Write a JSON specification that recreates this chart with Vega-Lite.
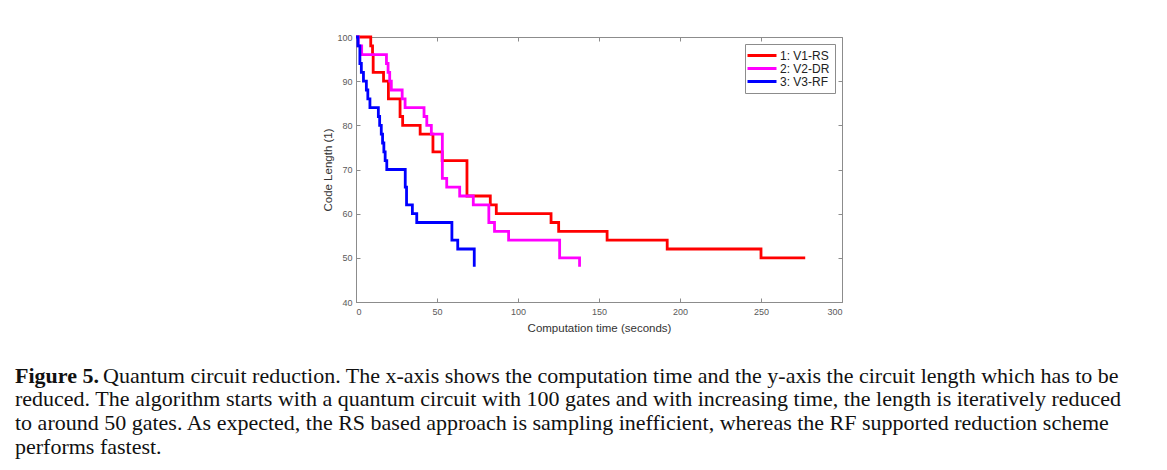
{
  "$schema": "https://vega.github.io/schema/vega-lite/v6.json",
  "width": 486,
  "height": 265,
  "autosize": {"type": "none"},
  "padding": {"left": 356, "top": 37, "right": 325, "bottom": 168},
  "background": "white",
  "config": {
    "view": {"stroke": "#8c8c8c", "strokeWidth": 1},
    "font": "Liberation Sans",
    "axis": {
      "domainColor": "#8c8c8c",
      "tickColor": "#8c8c8c",
      "labelColor": "#5a5a5a",
      "labelFont": "Liberation Sans",
      "labelFontSize": 9,
      "titleFont": "Liberation Sans",
      "titleFontWeight": "normal",
      "titleColor": "#333333",
      "titleFontSize": 11.5,
      "grid": false,
      "tickSize": -4,
      "labelPadding": 8
    }
  },
  "title": {
    "text": "Figure 5.",
    "subtitle": [
      "\u200b\u00a0\u00a0\u00a0\u00a0\u00a0\u00a0\u00a0\u00a0\u00a0\u00a0\u00a0\u00a0\u00a0\u00a0\u00a0\u00a0Quantum circuit reduction. The x-axis shows the computation time and the y-axis the circuit length which has to be",
      "reduced. The algorithm starts with a quantum circuit with 100 gates and with increasing time, the length is iteratively reduced",
      "to around 50 gates. As expected, the RS based approach is sampling inefficient, whereas the RF supported reduction scheme",
      "performs fastest."
    ],
    "orient": "bottom",
    "anchor": "start",
    "frame": "group",
    "dx": -341,
    "offset": 32,
    "font": "Liberation Serif",
    "fontSize": 22,
    "fontWeight": "bold",
    "color": "#111111",
    "subtitleFont": "Liberation Serif",
    "subtitleFontSize": 22,
    "subtitleFontWeight": "normal",
    "subtitleColor": "#111111",
    "subtitleLineHeight": 23.7,
    "subtitlePadding": -22,
    "lineHeight": 22
  },
  "data": {
    "values": [
      {"series": "1: V1-RS", "t": 0, "len": 100},
      {"series": "1: V1-RS", "t": 9.1, "len": 98},
      {"series": "1: V1-RS", "t": 10.2, "len": 96},
      {"series": "1: V1-RS", "t": 10.6, "len": 92},
      {"series": "1: V1-RS", "t": 17, "len": 90},
      {"series": "1: V1-RS", "t": 20, "len": 86},
      {"series": "1: V1-RS", "t": 27.2, "len": 82},
      {"series": "1: V1-RS", "t": 28.8, "len": 80},
      {"series": "1: V1-RS", "t": 39.6, "len": 78},
      {"series": "1: V1-RS", "t": 47.5, "len": 74},
      {"series": "1: V1-RS", "t": 53.2, "len": 72},
      {"series": "1: V1-RS", "t": 68.5, "len": 64},
      {"series": "1: V1-RS", "t": 82.9, "len": 62},
      {"series": "1: V1-RS", "t": 86.6, "len": 60},
      {"series": "1: V1-RS", "t": 120.4, "len": 58},
      {"series": "1: V1-RS", "t": 125.1, "len": 56},
      {"series": "1: V1-RS", "t": 155, "len": 54},
      {"series": "1: V1-RS", "t": 192.1, "len": 52},
      {"series": "1: V1-RS", "t": 250, "len": 50},
      {"series": "1: V1-RS", "t": 277.3, "len": 50},
      {"series": "2: V2-DR", "t": 0, "len": 100},
      {"series": "2: V2-DR", "t": 1.4, "len": 98},
      {"series": "2: V2-DR", "t": 3.5, "len": 96},
      {"series": "2: V2-DR", "t": 18.8, "len": 94},
      {"series": "2: V2-DR", "t": 19.8, "len": 92},
      {"series": "2: V2-DR", "t": 20.8, "len": 90},
      {"series": "2: V2-DR", "t": 21.8, "len": 88},
      {"series": "2: V2-DR", "t": 28.5, "len": 86},
      {"series": "2: V2-DR", "t": 30.3, "len": 84},
      {"series": "2: V2-DR", "t": 42, "len": 82},
      {"series": "2: V2-DR", "t": 43.7, "len": 80},
      {"series": "2: V2-DR", "t": 46.5, "len": 78},
      {"series": "2: V2-DR", "t": 53.3, "len": 68},
      {"series": "2: V2-DR", "t": 56, "len": 66},
      {"series": "2: V2-DR", "t": 64, "len": 64},
      {"series": "2: V2-DR", "t": 72.4, "len": 62},
      {"series": "2: V2-DR", "t": 82, "len": 58},
      {"series": "2: V2-DR", "t": 85.5, "len": 56},
      {"series": "2: V2-DR", "t": 94.2, "len": 54},
      {"series": "2: V2-DR", "t": 125.7, "len": 50},
      {"series": "2: V2-DR", "t": 138, "len": 48},
      {"series": "3: V3-RF", "t": 0, "len": 100},
      {"series": "3: V3-RF", "t": 1.2, "len": 98},
      {"series": "3: V3-RF", "t": 2.4, "len": 94},
      {"series": "3: V3-RF", "t": 3.3, "len": 92},
      {"series": "3: V3-RF", "t": 4.6, "len": 90},
      {"series": "3: V3-RF", "t": 6.4, "len": 88},
      {"series": "3: V3-RF", "t": 7.3, "len": 86},
      {"series": "3: V3-RF", "t": 8.6, "len": 84},
      {"series": "3: V3-RF", "t": 13.8, "len": 82},
      {"series": "3: V3-RF", "t": 14.6, "len": 80},
      {"series": "3: V3-RF", "t": 15.6, "len": 78},
      {"series": "3: V3-RF", "t": 16.4, "len": 76},
      {"series": "3: V3-RF", "t": 17.2, "len": 74},
      {"series": "3: V3-RF", "t": 18, "len": 72},
      {"series": "3: V3-RF", "t": 19, "len": 70},
      {"series": "3: V3-RF", "t": 30.4, "len": 66},
      {"series": "3: V3-RF", "t": 31.2, "len": 62},
      {"series": "3: V3-RF", "t": 34.8, "len": 60},
      {"series": "3: V3-RF", "t": 37.5, "len": 58},
      {"series": "3: V3-RF", "t": 59.2, "len": 54},
      {"series": "3: V3-RF", "t": 62.8, "len": 52},
      {"series": "3: V3-RF", "t": 73, "len": 48}
    ]
  },
  "layer": [
    {
      "mark": {"type": "line", "interpolate": "step-after", "strokeWidth": 2.8, "strokeJoin": "miter", "strokeCap": "butt"},
      "encoding": {
        "x": {
          "field": "t", "type": "quantitative",
          "scale": {"domain": [0, 300], "nice": false, "zero": false},
          "axis": {"orient": "bottom", "values": [0, 50, 100, 150, 200, 250, 300], "title": "Computation time (seconds)", "titlePadding": 6, "labelPadding": 9}
        },
        "y": {
          "field": "len", "type": "quantitative",
          "scale": {"domain": [40, 100], "nice": false, "zero": false},
          "axis": {"orient": "left", "values": [40, 50, 60, 70, 80, 90, 100], "title": "Code Length (1)", "titlePadding": 3}
        },
        "color": {
          "field": "series", "type": "nominal",
          "scale": {"domain": ["1: V1-RS", "2: V2-DR", "3: V3-RF"], "range": ["#ff0000", "#ff00ff", "#0000ff"]},
          "legend": {
            "title": null,
            "orient": "top-right",
            "offset": 7,
            "strokeColor": "#8c8c8c",
            "fillColor": "white",
            "padding": 5,
            "symbolType": "M-2.9,0H2.9",
            "symbolStrokeWidth": 3,
            "symbolSize": 100,
            "symbolOffset": 5.5,
            "labelFont": "Liberation Sans",
            "labelFontSize": 12,
            "labelColor": "#222222",
            "labelOffset": 11.5,
            "rowPadding": 0
          }
        }
      }
    },
    {
      "mark": {"type": "point", "opacity": 0},
      "encoding": {
        "x": {"field": "t", "type": "quantitative", "axis": {"orient": "top", "values": [0, 50, 100, 150, 200, 250, 300], "labels": false, "title": null, "domain": false}},
        "y": {"field": "len", "type": "quantitative", "axis": {"orient": "right", "values": [40, 50, 60, 70, 80, 90, 100], "labels": false, "title": null, "domain": false}}
      }
    }
  ],
  "resolve": {"axis": {"x": "independent", "y": "independent"}}
}
